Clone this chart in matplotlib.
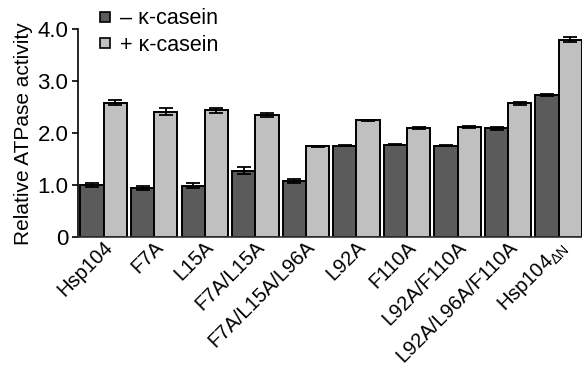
import numpy as np
import matplotlib.pyplot as plt
import matplotlib.transforms as mtransforms
from matplotlib.lines import Line2D

plt.rcParams['font.family'] = ['Liberation Sans', 'DejaVu Sans']
plt.rcParams['mathtext.fontset'] = 'custom'
plt.rcParams['mathtext.rm'] = 'Liberation Sans'
plt.rcParams['mathtext.it'] = 'Liberation Sans'

labels = ['Hsp104', 'F7A', 'L15A', 'F7A/L15A', 'F7A/L15A/L96A', 'L92A',
          'F110A', 'L92A/F110A', 'L92A/L96A/F110A', 'Hsp104$_{\\mathrm{\\Delta N}}$']
minus_casein = [1.00, 0.95, 0.99, 1.28, 1.08, 1.76, 1.78, 1.76, 2.10, 2.73]
minus_err = [0.04, 0.04, 0.05, 0.07, 0.04, 0.01, 0.01, 0.01, 0.03, 0.02]
plus_casein = [2.59, 2.42, 2.44, 2.35, 1.755, 2.25, 2.11, 2.13, 2.58, 3.80]
plus_err = [0.05, 0.06, 0.05, 0.04, 0.01, 0.01, 0.02, 0.02, 0.03, 0.05]

dark = '#5b5b5b'
light = '#c0c0c0'

fig = plt.figure(figsize=(5.82, 3.73), dpi=100)
ax = fig.add_axes([0.134, 0.364, 0.866, 0.557])

x = np.arange(len(labels))
w = 0.46
ax.bar(x - w / 2, minus_casein, w, color=dark, edgecolor='black', linewidth=1.4,
       yerr=minus_err, capsize=5, error_kw=dict(elinewidth=1.3, capthick=1.3, ecolor='black'))
ax.bar(x + w / 2, plus_casein, w, color=light, edgecolor='black', linewidth=1.4,
       yerr=plus_err, capsize=5, error_kw=dict(elinewidth=1.3, capthick=1.3, ecolor='black'))

ax.set_xlim(-0.507, 9.46)
ax.set_ylim(0, 4.0)
ax.set_yticks([0, 1, 2, 3, 4])
ax.set_yticklabels(['0', '1.0', '2.0', '3.0', '4.0'], fontsize=16)
ax.set_xticks(x)
ax.set_xticklabels(labels, rotation=45, ha='right', va='center',
                   rotation_mode='anchor', fontsize=14.5)
ax.tick_params(axis='x', length=0, pad=5)
ax.tick_params(axis='y', length=4, width=1.2, pad=3)
ax.set_ylabel('Relative ATPase activity', fontsize=15, labelpad=3)

# nudge rotated labels right, like the original
shift = mtransforms.ScaledTranslation(6 / 100, 0, fig.dpi_scale_trans)
for lab in ax.get_xticklabels():
    lab.set_transform(lab.get_transform() + shift)

for s in ['top', 'right']:
    ax.spines[s].set_visible(False)
ax.spines['left'].set_linewidth(1.2)
ax.spines['bottom'].set_linewidth(1.2)
ax.spines['bottom'].set_color('#333333')

handles = [Line2D([], [], marker='s', linestyle='none', markersize=7,
                  markerfacecolor=dark, markeredgecolor='black', markeredgewidth=1.2),
           Line2D([], [], marker='s', linestyle='none', markersize=7,
                  markerfacecolor=light, markeredgecolor='black', markeredgewidth=1.2)]
fig.legend(handles, ['\u2013 \u03ba-casein', '+ \u03ba-casein'], loc='upper left',
           bbox_to_anchor=(0.132, 1.03), frameon=False, fontsize=15.5,
           handletextpad=0.3, labelspacing=0.25, handlelength=0.8)

fig.savefig('out.png', dpi=100)
